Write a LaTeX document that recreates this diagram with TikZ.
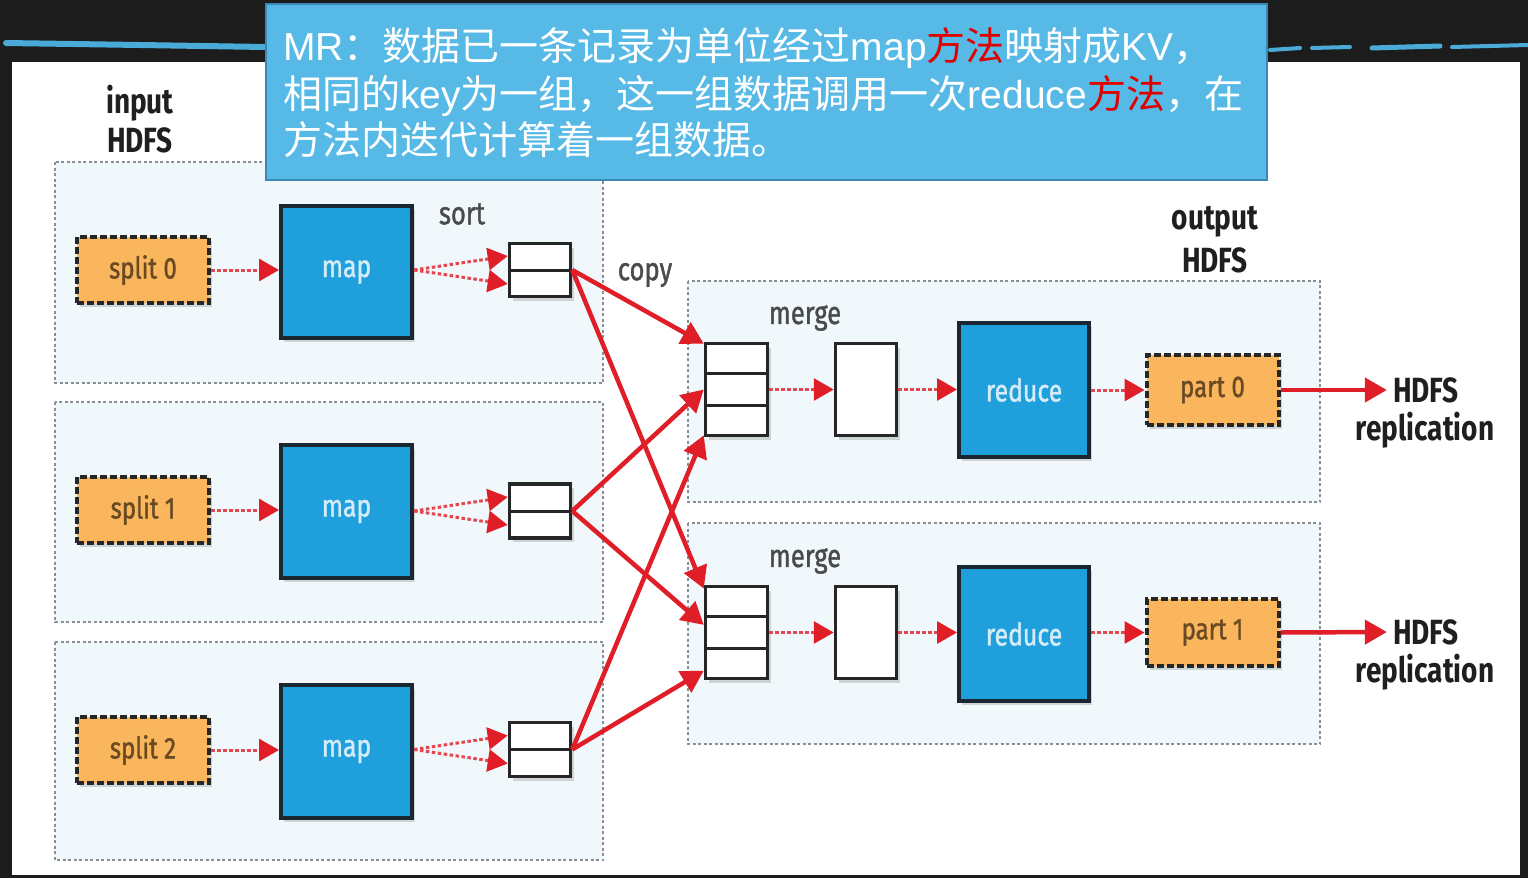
\documentclass[tikz,border=0pt]{standalone}
\usepackage{fontspec}
\usetikzlibrary{arrows.meta,calc,shadows}
\newfontfamily\cjk{Noto Sans CJK SC}
\newfontfamily\lat{Liberation Sans}
\newfontfamily\cond[FakeStretch=0.8]{Fira Sans}
\newfontfamily\condm[FakeStretch=0.8,FakeBold=1.2]{Fira Sans}
\definecolor{bgdark}{HTML}{1C1C1C}
\definecolor{stripe}{HTML}{4AAAD8}
\definecolor{callblue}{HTML}{57B9E5}
\definecolor{callborder}{HTML}{3A88B5}
\definecolor{hlred}{HTML}{E00000}
\definecolor{lanefill}{HTML}{F0F8FC}
\definecolor{lanegray}{HTML}{8A8F94}
\definecolor{splitor}{HTML}{FAB65C}
\definecolor{splittext}{HTML}{6A4A22}
\definecolor{mapblue}{HTML}{1F9FDC}
\definecolor{maptext}{HTML}{D4ECF7}
\definecolor{boxedge}{HTML}{1A2630}
\definecolor{copyred}{HTML}{E01E28}
\definecolor{dotred}{HTML}{E3474F}
\definecolor{lblgray}{HTML}{4A4A4A}
\tikzset{
  softshadow/.style={drop shadow={opacity=0.3, shadow xshift=3pt, shadow yshift=-4pt}},
  lane/.style={draw=lanegray, line width=2.5pt, dash pattern=on 3pt off 2.5pt, fill=lanefill},
  splitbox/.style={draw=black!85, line width=4pt, dash pattern=on 7pt off 3pt, fill=splitor,
    minimum width=132pt, minimum height=66pt, inner sep=0pt,
    font=\condm\fontsize{30}{32}\selectfont, text=splittext, softshadow},
  mapbox/.style={draw=boxedge, line width=4pt, fill=mapblue, inner sep=0pt, text=maptext,
    minimum width=131pt, font=\condm\fontsize{31}{33}\selectfont, softshadow},
  buf/.style={draw=black!85, line width=3.5pt, fill=white, inner sep=0pt, softshadow},
  dotarrow/.style={draw=dotred, line width=3pt, dash pattern=on 3.5pt off 2.5pt,
    -{Triangle[length=20pt,width=22pt,color=copyred]}},
  copyarrow/.style={draw=copyred, line width=4.5pt, -{Triangle[length=22pt,width=24pt]}},
  lbl/.style={font=\condm\fontsize{32}{34}\selectfont, text=lblgray, inner sep=0pt},
  blbl/.style={font=\cond\bfseries\fontsize{35}{37}\selectfont, text=black!88, inner sep=0pt},
  calltext/.style={anchor=base west, inner sep=0pt, text=white, font=\cjk\fontsize{39}{47}\selectfont},
}
\begin{document}
\begin{tikzpicture}[x=1pt,y=-1pt]
\useasboundingbox (0,0) rectangle (1528,878);
\fill[bgdark] (0,0) rectangle (1528,878);
% brush stripes
\draw[stripe, line width=6pt, line cap=round] (6,43) -- (140,45) -- (265,47);
\draw[stripe, line width=4pt, line cap=round] (1270,50) -- (1300,48);
\draw[stripe, line width=4pt, line cap=round] (1312,48) -- (1350,47);
\draw[stripe, line width=5pt, line cap=round] (1372,48) -- (1440,46);
\draw[stripe, line width=4pt, line cap=round] (1452,47) -- (1528,45);
% white panel
\fill[white] (12,62) rectangle (1520,875);
% lanes
\draw[lane] (55,162) rectangle (603,383);
\draw[lane] (55,402) rectangle (603,622);
\draw[lane] (55,642) rectangle (603,860);
\draw[lane] (688,281) rectangle (1320,502);
\draw[lane] (688,523) rectangle (1320,744);

% labels
\node[blbl] (inp1) at (140,103) {input};
\node[blbl] (inp2) at (140,140) {HDFS};
\node[blbl] (out1) at (1215,222) {output};
\node[blbl] (out2) at (1215,260) {HDFS};
\node[lbl] (sortl) at (462,214) {sort};
\node[lbl] (copyl) at (645,275) {copy};
\node[lbl] (merge0l) at (805,318) {merge};
\node[lbl] (merge1l) at (805,561) {merge};

% map side
\foreach \i/\y in {0/270,1/510,2/750}{
  \node[splitbox] (s\i) at (143,\y) {split \i};
}
\node[mapbox, minimum height=132pt] (m0) at (346.5,272) {map};
\node[mapbox, minimum height=133pt] (m1) at (346.5,511.5) {map};
\node[mapbox, minimum height=133pt] (m2) at (346.5,751.5) {map};
\node[buf, minimum width=61pt, minimum height=53pt] (b0) at (540,270) {};
\node[buf, minimum width=61pt, minimum height=54pt] (b1) at (540,511) {};
\node[buf, minimum width=61pt, minimum height=54pt] (b2) at (540,749.5) {};
\foreach \i in {0,1,2}{
  \draw[black!85, line width=3pt] (b\i.west) -- (b\i.east);
}

% reduce side
\node[buf, minimum width=62pt, minimum height=92pt] (g0) at (736.5,389.5) {};
\node[buf, minimum width=62pt, minimum height=92pt] (g1) at (736.5,632.5) {};
\foreach \i in {0,1}{
  \draw[black!85, line width=3pt] ($(g\i.north west)!1/3!(g\i.south west)$) -- ($(g\i.north east)!1/3!(g\i.south east)$);
  \draw[black!85, line width=3pt] ($(g\i.north west)!2/3!(g\i.south west)$) -- ($(g\i.north east)!2/3!(g\i.south east)$);
}
\node[buf, minimum width=61pt, minimum height=92pt] (w0) at (866,389.5) {};
\node[buf, minimum width=61pt, minimum height=92pt] (w1) at (866,632.5) {};
\node[mapbox, minimum width=130pt, minimum height=134pt] (r0) at (1024,390) {reduce};
\node[mapbox, minimum width=130pt, minimum height=134pt] (r1) at (1024,634) {reduce};
\node[splitbox, minimum height=70pt] (p0) at (1212.5,390) {part 0};
\node[splitbox, minimum height=67pt] (p1) at (1212.5,632.5) {part 1};
\node[blbl, inner sep=6pt] (h0) at (1426,390) {HDFS};
\node[blbl] (h0b) at (1425,430) {replication};
\node[blbl, inner sep=6pt] (h1) at (1426,632) {HDFS};
\node[blbl] (h1b) at (1425,672) {replication};

% dotted arrows
\foreach \i in {0,1,2}{
  \draw[dotarrow] (s\i.east) -- (m\i.west|-s\i.east);
  \draw[dotarrow] (m\i.east|-b\i.west) -- ($(b\i.west)+(0,-14)$);
  \draw[dotarrow] (m\i.east|-b\i.west) -- ($(b\i.west)+(0,14)$);
}
\foreach \i in {0,1}{
  \draw[dotarrow] (g\i.east) -- (w\i.west);
  \draw[dotarrow] (w\i.east) -- (r\i.west|-w\i.east);
  \draw[dotarrow] (r\i.east|-p\i.west) -- (p\i.west);
  \draw[copyarrow] (p\i.east) -- (h\i.west);
}
% copy arrows
\draw[copyarrow] (b0.east) -- ($(g0.north west)!0.02!(g0.south west)$);
\draw[copyarrow] (b1.east) -- ($(g0.north west)!0.5!(g0.south west)$);
\draw[copyarrow] (b2.east) -- ($(g0.north west)!0.98!(g0.south west)$);
\draw[copyarrow] (b0.east) -- ($(g1.north west)!0.04!(g1.south west)$);
\draw[copyarrow] (b1.east) -- ($(g1.north west)!0.42!(g1.south west)$);
\draw[copyarrow] (b2.east) -- ($(g1.north west)!0.9!(g1.south west)$);

% callout
\node[draw=callborder, line width=2pt, fill=callblue, minimum width=1001pt, minimum height=176pt, inner sep=0pt] (callout) at (766.5,92) {};
\node[calltext] (t1) at (283,60) {{\lat MR}：数据已一条记录为单位经过{\lat map}{\color{hlred}方法}映射成{\lat KV}，};
\node[calltext] (t2) at (283,108) {相同的{\lat key}为一组，这一组数据调用一次{\lat reduce}{\color{hlred}方法}，在};
\node[calltext] (t3) at (283,154) {方法内迭代计算着一组数据。};
\end{tikzpicture}
\end{document}
